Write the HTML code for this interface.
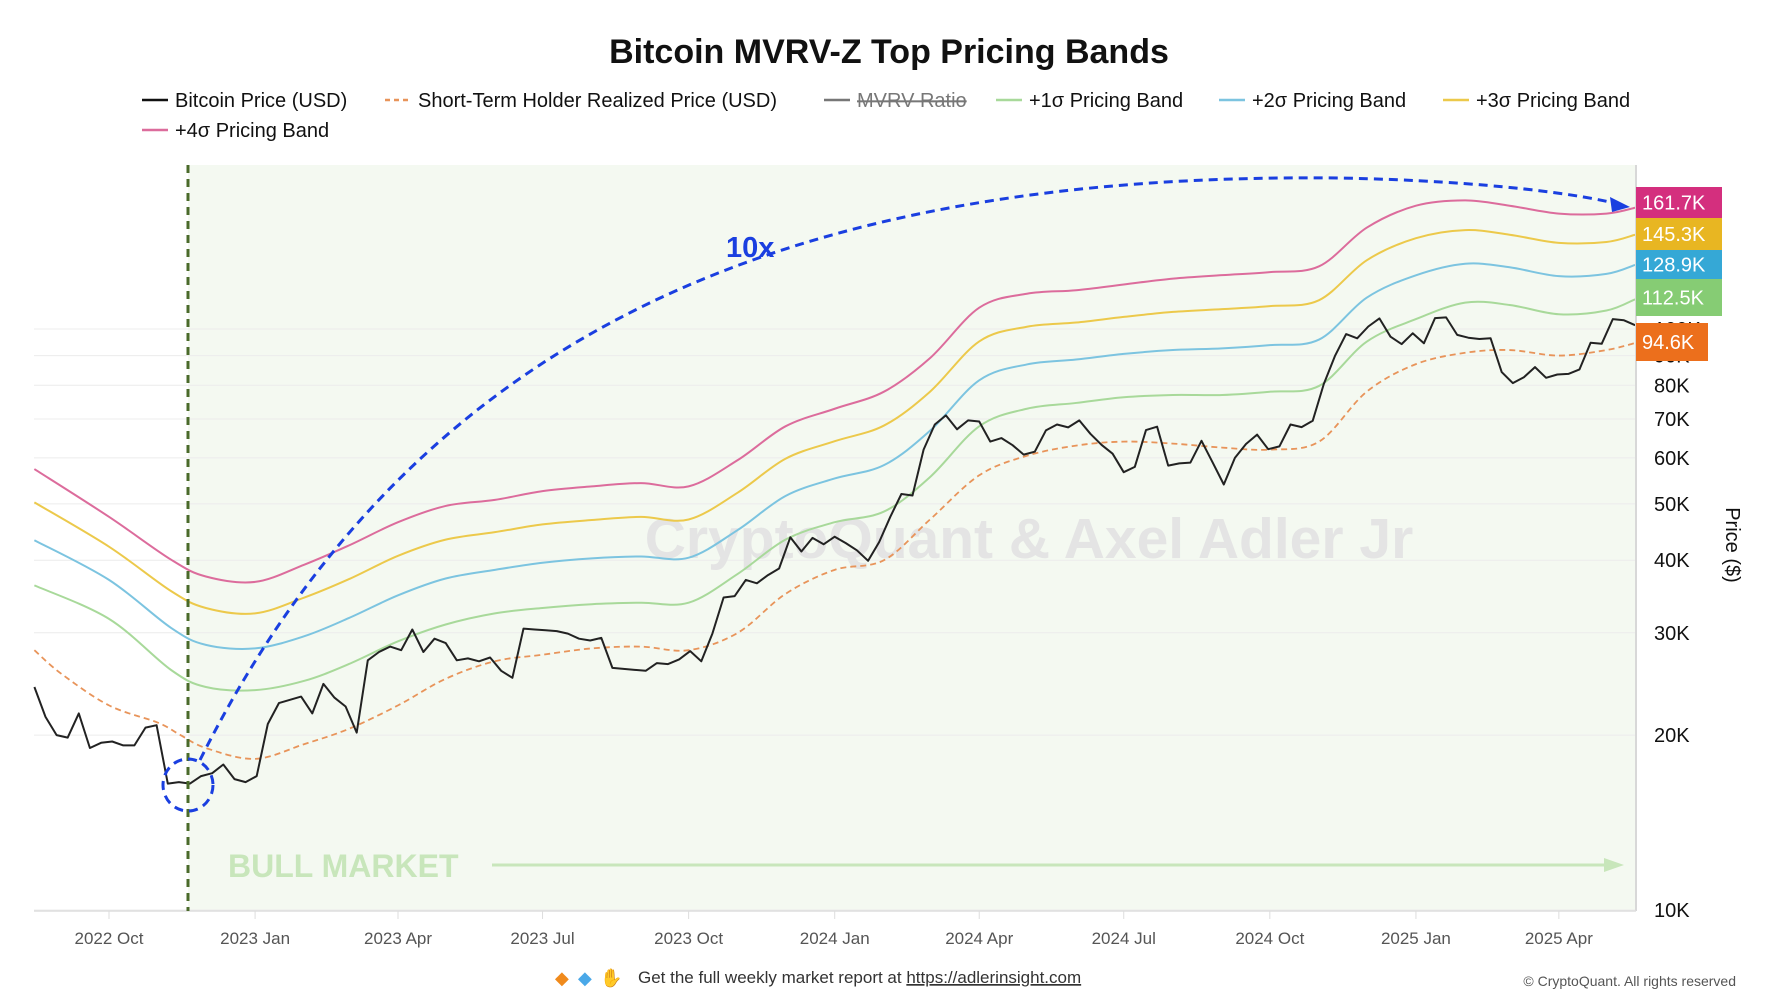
<!DOCTYPE html>
<html><head><meta charset="utf-8"><style>
html,body{margin:0;padding:0;background:#fff;}
svg{display:block;font-family:"Liberation Sans",sans-serif;}
</style></head><body>
<svg id="chart" width="1778" height="1000" viewBox="0 0 1778 1000" xmlns="http://www.w3.org/2000/svg">
<text x="889" y="63" text-anchor="middle" font-size="34" font-weight="bold" fill="#111">Bitcoin MVRV-Z Top Pricing Bands</text>
<g id="legend" font-size="20" fill="#111"></g>
<rect x="188" y="165" width="1448" height="746" fill="#f4f9f1"/>
<g id="grid"></g>
<text x="1029" y="558" text-anchor="middle" font-size="57" font-weight="bold" fill="#e4e4e4">CryptoQuant &amp; Axel Adler Jr</text>
<g id="series"></g>
<line x1="1636" y1="165" x2="1636" y2="911" stroke="#d8d8d8" stroke-width="2"/>
<line x1="34" y1="911" x2="1636" y2="911" stroke="#ddd" stroke-width="1.5"/>
<line x1="188" y1="165" x2="188" y2="911" stroke="#4a6a2a" stroke-width="3" stroke-dasharray="8,6"/>
<ellipse cx="188" cy="785" rx="25" ry="26" fill="none" stroke="#1a3fe0" stroke-width="3" stroke-dasharray="9,6"/>
<path d="M200,760 C415,330 790,172 1340,178 C1490,181 1585,195 1622,205" fill="none" stroke="#1a3fe0" stroke-width="3" stroke-dasharray="9,6"/>
<polygon points="1630,207 1610,197 1612,212" fill="#1a3fe0"/>
<text x="726" y="257" font-size="29" font-weight="bold" fill="#1a3fe0">10x</text>
<text x="228" y="877" font-size="32" font-weight="bold" fill="#c8e6bb">BULL MARKET</text>
<line x1="492" y1="865" x2="1608" y2="865" stroke="#c8e6bb" stroke-width="3"/>
<polygon points="1624,865 1604,858 1604,872" fill="#c8e6bb"/>
<g id="xaxis" font-size="17" fill="#555"></g>
<g id="yaxis" font-size="20" fill="#111"></g>
<g id="badges" font-size="20" fill="#fff"></g>
<text transform="translate(1726,545) rotate(90)" text-anchor="middle" font-size="20" fill="#111">Price ($)</text>
<g>
<text x="555" y="984" font-size="18" fill="#f08a1c">◆</text>
<text x="578" y="984" font-size="18" fill="#4aa8e8">◆</text>
<text x="600" y="984" font-size="18" fill="#f0b820">✋</text>
<text x="638" y="983" font-size="17" fill="#333">Get the full weekly market report at <tspan text-decoration="underline">https://adlerinsight.com</tspan></text>
</g>
<text x="1736" y="986" text-anchor="end" font-size="14" fill="#555">© CryptoQuant. All rights reserved</text>
</svg>
<script>
const priceStart = "2022-08-15";
const priceValues = [24200,21500,20000,19800,21800,19000,19400,19500,19200,19200,20600,20800,16500,16600,16500,17000,17200,17800,16800,16600,
17000,20900,22700,23000,23300,21800,24500,23200,22400,20200,26900,27800,28400,28000,30400,27800,29300,28800,26900,27100,26800,27200,25800,25100,30500,30400,30300,30200,29900,29300,29100,29400,26100,26000,25900,25800,26600,26500,27000,27900,26800,29900,34500,34700,37000,36500,37700,38700,43800,41400,43700,42600,
43900,42800,41600,39900,43000,47500,52000,51700,62000,68500,71000,67200,69600,69300,64000,64900,63100,60800,61500,66900,68500,67700,69600,66000,63200,61000,56700,57900,67000,67900,58200,58700,58900,64200,58900,54000,60000,63400,65800,62100,62800,68500,67800,69500,80400,89800,98000,96400,101000,104300,97000,94200,98300,
94500,104400,104700,97700,96600,96100,96400,84300,80700,82600,86000,82400,83500,83700,85200,94700,94300,104000,103500,101500];
const sthDates = ["2022-08-15","2022-09-01","2022-10-01","2022-11-01","2022-11-15","2022-12-01","2023-01-01","2023-02-01","2023-03-01","2023-04-01","2023-05-01","2023-06-01","2023-07-01","2023-08-01","2023-09-01","2023-10-01","2023-11-01","2023-12-01","2024-01-01","2024-02-01","2024-03-01","2024-04-01","2024-05-01","2024-06-01","2024-07-01","2024-08-01","2024-09-01","2024-10-01","2024-11-01","2024-12-01","2025-01-01","2025-02-01","2025-03-01","2025-04-01","2025-05-01","2025-05-19"];
const sthValues = [28000,25500,22500,21000,20000,19000,18200,19300,20500,22500,25000,26800,27500,28200,28400,28000,30000,35000,38500,40000,47000,56000,60500,63000,64000,63500,62500,62000,64000,78000,87000,91000,92000,90000,92000,94600];
const bandDates = ["2022-08-15","2022-10-01","2022-11-09","2022-12-01","2023-01-01","2023-02-01","2023-03-01","2023-04-01","2023-05-01","2023-06-01","2023-07-01","2023-08-01","2023-09-01","2023-10-01","2023-11-01","2023-12-01","2024-01-01","2024-02-01","2024-03-01","2024-04-01","2024-05-01","2024-06-01","2024-07-01","2024-08-01","2024-09-01","2024-10-01","2024-11-01","2024-12-01","2025-01-01","2025-02-01","2025-03-01","2025-04-01","2025-05-01","2025-05-19"];
const band1Values = [36.2,31.7,25.9,24.2,23.9,24.8,26.5,29,31,32.4,33.1,33.6,33.8,33.8,37.9,43.4,46.5,48.5,55.6,68,72.9,74.6,76.3,77,77,78,79.8,95.1,104,111,110,106,107.6,112.5];
const band2Values = [43.3,37.0,30.6,28.6,28.2,29.6,31.8,34.8,37.2,38.5,39.6,40.3,40.6,40.4,45.1,51.6,55.3,58.3,66.8,81.6,86.9,88.6,90.6,92.0,92.6,93.8,95.9,113.2,123.7,129.5,127.7,123.3,124.4,128.9];
const band3Values = [50.3,42.2,35.4,33.1,32.4,34.5,37.1,40.7,43.4,44.7,46.1,46.9,47.5,47.0,52.3,59.8,64.1,68.2,78.0,95.2,100.9,102.6,104.9,107.0,108.2,109.5,112.1,131.3,143.3,148.0,145.3,140.7,141.2,145.3];
const band4Values = [57.4,47.5,40.1,37.5,36.7,39.3,42.4,46.5,49.6,50.8,52.6,53.6,54.3,53.6,59.5,68,72.9,78,89.1,108.8,115,116.6,119.3,122.1,123.8,125.3,128.2,149.4,163,166.5,163,158,158,161.7];
const yTicks = [10000,20000,30000,40000,50000,60000,70000,80000,90000,100000];
const yTickLabels = ["10K","20K","30K","40K","50K","60K","70K","80K","90K","100K"];
const xTicks = ["2022-10-01","2023-01-01","2023-04-01","2023-07-01","2023-10-01","2024-01-01","2024-04-01","2024-07-01","2024-10-01","2025-01-01","2025-04-01"];
const xTickLabels = ["2022 Oct","2023 Jan","2023 Apr","2023 Jul","2023 Oct","2024 Jan","2024 Apr","2024 Jul","2024 Oct","2025 Jan","2025 Apr"];
const badgeLabels = ["161.7K","145.3K","128.9K","112.5K","94.6K"];

const NS="http://www.w3.org/2000/svg";
const T0=Date.parse("2022-10-01");
function xOf(d){return 109+(Date.parse(d)-T0)/86400000*1.588;}
function yOf(v){return 910-581*Math.log10(v/10000);}
function mk(tag,attrs,parent){const e=document.createElementNS(NS,tag);for(const k in attrs)e.setAttribute(k,attrs[k]);parent.appendChild(e);return e;}
function smooth(pts){let d="M"+pts[0][0]+","+pts[0][1];for(let i=0;i<pts.length-1;i++){const p0=pts[Math.max(i-1,0)],p1=pts[i],p2=pts[i+1],p3=pts[Math.min(i+2,pts.length-1)];const c1=[p1[0]+(p2[0]-p0[0])/6,p1[1]+(p2[1]-p0[1])/6],c2=[p2[0]-(p3[0]-p1[0])/6,p2[1]-(p3[1]-p1[1])/6];d+=" C"+c1+" "+c2+" "+p2;}return d;}

const grid=document.getElementById('grid'),yax=document.getElementById('yaxis');
yTicks.forEach((v,i)=>{
  const g=mk('line',{x1:34,x2:1636,y1:yOf(v),y2:yOf(v),stroke:'#ececec','stroke-width':1},grid);
  
  
  const t=mk('text',{x:1654,y:yOf(v)+7},yax);t.textContent=yTickLabels[i];
  
  
});
const xax=document.getElementById('xaxis');
xTicks.forEach((d,i)=>{
  const x=xOf(d);
  const l=mk('line',{x1:x,x2:x,y1:911,y2:919,stroke:'#ddd'},xax);
  
  
  const t=mk('text',{x:x,y:944,'text-anchor':'middle'},xax);t.textContent=xTickLabels[i];
  
  
});
const ser=document.getElementById('series');
const bands=[[band1Values,'#a8d99a','band-1sigma'],[band2Values,'#7cc4e0','band-2sigma'],[band3Values,'#ecc94b','band-3sigma'],[band4Values,'#dc6c9c','band-4sigma']];
bands.forEach(b=>{
  const pts=bandDates.map((d,i)=>[xOf(d),yOf(b[0][i]*1000)]);
  const p=mk('path',{d:smooth(pts),fill:'none',stroke:b[1],'stroke-width':2},ser);
  
  
});
const sp=sthDates.map((d,i)=>[xOf(d),yOf(sthValues[i])]);
const sth=mk('path',{d:smooth(sp),fill:'none',stroke:'#e8945a','stroke-width':1.8,'stroke-dasharray':'6,4'},ser);


const ps=Date.parse(priceStart);
const pp=priceValues.map((v,i)=>{const d=new Date(ps+i*7*86400000).toISOString().slice(0,10);return xOf(d).toFixed(1)+","+yOf(v).toFixed(1);});
const pr=mk('polyline',{points:pp.join(' '),fill:'none',stroke:'#222','stroke-width':2,'stroke-linejoin':'round'},ser);



const bad=document.getElementById('badges');
const bcol=['#d42f7e','#e8b622','#35a8d6','#86cc74','#ec6f1c'];
const bbox=[[187,218],[218,250],[250,279],[279,316],[323,361]];
badgeLabels.forEach((s,i)=>{
  const w=i==4?72:86;
  const r=mk('rect',{x:1636,y:bbox[i][0],width:w,height:bbox[i][1]-bbox[i][0],fill:bcol[i]},bad);
  
  
  const t=mk('text',{x:1642,y:(bbox[i][0]+bbox[i][1])/2+7},bad);t.textContent=s;
  
  
});

const leg=document.getElementById('legend');
const items=[[142,107,'#111','','Bitcoin Price (USD)',false],[385,107,'#e8945a','5,4','Short-Term Holder Realized Price (USD)',false],[824,107,'#777','','MVRV Ratio',true],[996,107,'#a8d99a','','+1σ Pricing Band',false],[1219,107,'#7cc4e0','','+2σ Pricing Band',false],[1443,107,'#ecc94b','','+3σ Pricing Band',false],[142,137,'#dc6c9c','','+4σ Pricing Band',false]];
items.forEach(it=>{
  const g=mk('g',{},leg);
  
  
  mk('line',{x1:it[0],x2:it[0]+26,y1:it[1]-7,y2:it[1]-7,stroke:it[2],'stroke-width':2.5,'stroke-dasharray':it[3]||'none'},g);
  const t=mk('text',{x:it[0]+33,y:it[1],fill:it[5]?'#777':'#111'},g);t.textContent=it[4];
  if(it[5])t.setAttribute('text-decoration','line-through');
});
</script>
</body></html>
